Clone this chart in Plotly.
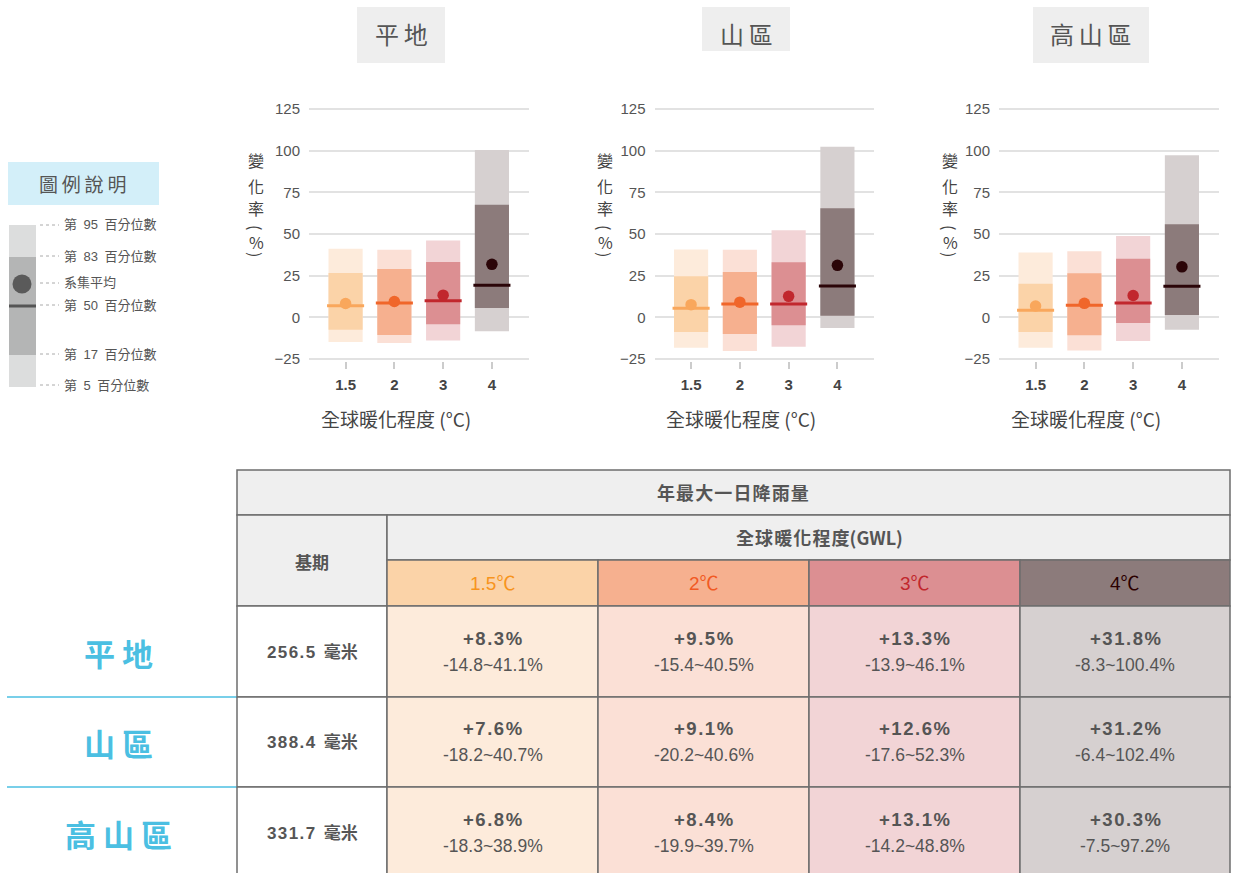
import plotly.graph_objects as go

W, H = 1236, 873

# ---- data -------------------------------------------------------------
regions = ['平地', '山區', '高山區']
gwl_levels = ['1.5', '2', '3', '4']
baseline_mm = [256.5, 388.4, 331.7]

# ensemble statistics of annual max 1-day rainfall change (%), per region x GWL
ens_mean = [[8.3, 9.5, 13.3, 31.8],
            [7.6, 9.1, 12.6, 31.2],
            [6.8, 8.4, 13.1, 30.3]]
p5 = [[-14.8, -15.4, -13.9, -8.3],
      [-18.2, -20.2, -17.6, -6.4],
      [-18.3, -19.9, -14.2, -7.5]]
p95 = [[41.1, 40.5, 46.1, 100.4],
       [40.7, 40.6, 52.3, 102.4],
       [38.9, 39.7, 48.8, 97.2]]
p17 = [[-7.4, -10.6, -4.2, 5.6],
       [-8.8, -10.0, -4.8, 1.0],
       [-8.8, -10.8, -3.4, 1.4]]
p83 = [[26.6, 29.0, 33.2, 67.6],
       [24.6, 27.2, 33.0, 65.4],
       [20.2, 26.4, 35.2, 55.8]]
p50 = [[7.0, 8.6, 10.0, 19.2],
       [5.4, 8.0, 8.0, 18.8],
       [4.2, 7.2, 8.6, 18.6]]

y_ticks = [-25, 0, 25, 50, 75, 100, 125]
legend_items = ['第\u200295\u2002百分位數', '第\u200283\u2002百分位數', '系集平均',
                '第\u200250\u2002百分位數', '第\u200217\u2002百分位數',
                '第\u20025\u2002百分位數']
# vertical y-axis title: (glyph, rotation)
y_title_chars = [('變', 0), ('化', 0), ('率', 0), ('(', 90), ('%', 0), (')', 90)]

# ---- styling ----------------------------------------------------------
light_colors = ['#fdebdb', '#fbe0d6', '#f2d4d6', '#d6d0d0']
mid_colors = ['#fbd3a8', '#f6b08f', '#dc8f92', '#8c7b7b']
dark_colors = ['#f9a75c', '#f0662a', '#c1272d', '#2b0508']
head_text_colors = ['#f7941d', '#f15a24', '#c1272d', '#2b0000']
TXT = '#555555'
CJK = 'Noto Sans CJK TC'
LAT = 'Liberation Sans, Noto Sans CJK TC'
NARROW = 'Liberation Sans Narrow, Liberation Sans, Noto Sans CJK TC'
BLUE = '#4bbfe2'
BORDER = '#6e6e6e'


def px(x):
    return x / W


def py(y):
    return 1 - y / H


def spaced(s, sep='\u2009'):
    return sep.join(list(s))


fig = go.Figure()
shapes = []
annotations = []

# ---- three small panels -----------------------------------------------
panel_px = [(309, 528.5), (654.5, 874), (999, 1218.5)]
ytitle_x = [256, 605, 950]
ytitle_y = [160, 186, 208, 227, 242, 254]
xtitle_x = [396, 741, 1086]
title_boxes = [(357, 445, 7, 63), (702, 790, 7, 51), (1033, 1149, 7, 63)]
xs = list(range(len(gwl_levels)))

for i, reg in enumerate(regions):
    suf = '' if i == 0 else str(i + 1)
    xa, ya = 'x' + suf, 'y' + suf
    outer_h = [hi - lo for hi, lo in zip(p95[i], p5[i])]
    inner_h = [hi - lo for hi, lo in zip(p83[i], p17[i])]
    fig.add_trace(go.Bar(x=xs, y=outer_h, base=p5[i], width=0.7,
                         marker=dict(color=light_colors, line=dict(width=0)),
                         xaxis=xa, yaxis=ya, hoverinfo='skip'))
    fig.add_trace(go.Bar(x=xs, y=inner_h, base=p17[i], width=0.7,
                         marker=dict(color=mid_colors, line=dict(width=0)),
                         xaxis=xa, yaxis=ya, hoverinfo='skip'))
    for j in xs:
        fig.add_trace(go.Scatter(x=[j - 0.38, j + 0.38], y=[p50[i][j]] * 2,
                                 mode='lines',
                                 line=dict(color=dark_colors[j], width=3),
                                 xaxis=xa, yaxis=ya, hoverinfo='skip'))
    fig.add_trace(go.Scatter(x=xs, y=ens_mean[i], mode='markers',
                             marker=dict(size=11.5, color=dark_colors),
                             xaxis=xa, yaxis=ya, hoverinfo='skip'))

    x0, x1 = panel_px[i]
    fig.update_layout(**{
        'xaxis' + suf: dict(domain=[px(x0), px(x1)], range=[-0.75, 3.75],
                            tickvals=xs, ticktext=gwl_levels,
                            ticks='outside', ticklen=7, tickwidth=1.5,
                            tickcolor='#cccccc', showgrid=False,
                            zeroline=False, showline=False, fixedrange=True,
                            automargin=False,
                            tickfont=dict(family=LAT, size=15, color='#444444',
                                          weight='bold'),
                            ticklabelstandoff=3, anchor=ya),
        'yaxis' + suf: dict(domain=[py(360.7), py(107.3)], range=[-26, 126],
                            tickvals=y_ticks, showgrid=True,
                            gridcolor='#e2e2e2', gridwidth=1.5,
                            zeroline=False, showline=False, fixedrange=True,
                            automargin=False,
                            tickfont=dict(family=LAT, size=15, color=TXT),
                            ticklabelstandoff=8, anchor=xa),
    })

    bx0, bx1, by0, by1 = title_boxes[i]
    shapes.append(dict(type='rect', xref='paper', yref='paper',
                       x0=px(bx0), x1=px(bx1), y0=py(by1), y1=py(by0),
                       fillcolor='#eeeeee', line=dict(width=0), layer='below'))
    annotations.append(dict(x=px((bx0 + bx1) / 2), y=py(34), xref='paper',
                            yref='paper', text=spaced(reg), showarrow=False,
                            font=dict(family=CJK, size=24, color=TXT),
                            xanchor='center', yanchor='middle'))
    for (ch, rot), cy in zip(y_title_chars, ytitle_y):
        annotations.append(dict(x=px(ytitle_x[i]), y=py(cy), xref='paper',
                                yref='paper', text=ch, showarrow=False,
                                textangle=rot,
                                font=dict(family=CJK, size=16, color='#444444'),
                                xanchor='center', yanchor='middle', borderpad=0))
    annotations.append(dict(x=px(xtitle_x[i]), y=py(418), xref='paper',
                            yref='paper', text='全球暖化程度 (°C)',
                            showarrow=False,
                            font=dict(family=CJK, size=19, color='#444444'),
                            xanchor='center', yanchor='middle'))

# ---- legend key ---------------------------------------------------------
shapes.append(dict(type='rect', xref='paper', yref='paper', x0=px(8), x1=px(159),
                   y0=py(205), y1=py(162), fillcolor='#d3eff9', line=dict(width=0)))
annotations.append(dict(x=px(83), y=py(183), xref='paper', yref='paper',
                        text=spaced('圖例說明'), showarrow=False,
                        font=dict(family=CJK, size=19, color=TXT),
                        xanchor='center', yanchor='middle'))
shapes.append(dict(type='rect', xref='paper', yref='paper', x0=px(9), x1=px(36),
                   y0=py(387), y1=py(225), fillcolor='#dcdddd', line=dict(width=0)))
shapes.append(dict(type='rect', xref='paper', yref='paper', x0=px(9), x1=px(36),
                   y0=py(355), y1=py(257), fillcolor='#b4b5b5', line=dict(width=0)))
shapes.append(dict(type='line', xref='paper', yref='paper', x0=px(9), x1=px(36),
                   y0=py(306), y1=py(306), line=dict(color='#555555', width=3)))
shapes.append(dict(type='circle', xref='paper', yref='paper', x0=px(12.5),
                   x1=px(31.5), y0=py(293.5), y1=py(274.5),
                   fillcolor='#5a5a5a', line=dict(width=0)))
legend_y = [225, 256, 283, 305, 354, 385]
for lbl, ly in zip(legend_items, legend_y):
    shapes.append(dict(type='line', xref='paper', yref='paper', x0=px(40),
                       x1=px(59), y0=py(ly), y1=py(ly),
                       line=dict(color='#aaaaaa', width=1, dash='dot')))
    annotations.append(dict(x=px(62), y=py(ly), xref='paper', yref='paper',
                            text=lbl, showarrow=False,
                            font=dict(family=LAT, size=13, color=TXT),
                            xanchor='left', yanchor='middle'))

# ---- summary table ------------------------------------------------------
col_x = [237, 387, 598, 809, 1020, 1230]
row_y = [606, 697, 787, 880]
row_mid = [652, 742, 833]


def cell(x0, x1, y0, y1, fill):
    shapes.append(dict(type='rect', xref='paper', yref='paper',
                       x0=px(x0), x1=px(x1), y0=py(y1), y1=py(y0),
                       fillcolor=fill, line=dict(color=BORDER, width=1.5)))


def text(x, y, s, size, color=TXT, bold=False, family=LAT):
    annotations.append(dict(x=px(x), y=py(y), xref='paper', yref='paper',
                            text=s, showarrow=False,
                            font=dict(family=family, size=size, color=color,
                                      weight='bold' if bold else 'normal'),
                            xanchor='center', yanchor='middle'))


cell(237, 1230, 470, 515, '#efefef')
text(733, 492, spaced('年最大一日降雨量', '\u200a'), 18, bold=True, family=CJK)
cell(237, 387, 515, 606, '#efefef')
text(312, 561, '基期', 17, bold=True, family=CJK)
cell(387, 1230, 515, 560, '#efefef')
text(819, 537, spaced('全球暖化程度', '\u200a') + '(GWL)', 18, bold=True,
     family=CJK)
for j, g in enumerate(gwl_levels):
    cell(col_x[j + 1], col_x[j + 2], 560, 606, mid_colors[j])
    text((col_x[j + 1] + col_x[j + 2]) / 2, 583, g + '℃', 19,
         color=head_text_colors[j], family=NARROW)

for i, reg in enumerate(regions):
    y0, y1 = row_y[i], row_y[i + 1]
    mid = row_mid[i]
    cell(237, 387, y0, y1, '#ffffff')
    text(312, mid, spaced(f'{baseline_mm[i]:.1f}', '\u200a') + '\u2002毫米', 17,
         bold=True)
    for j in xs:
        cx0, cx1 = col_x[j + 1], col_x[j + 2]
        cell(cx0, cx1, y0, y1, light_colors[j])
        text((cx0 + cx1) / 2, mid - 14,
             spaced(f'+{ens_mean[i][j]:.1f}%', '\u200a'), 18.5, bold=True)
        text((cx0 + cx1) / 2, mid + 13,
             f'{p5[i][j]:.1f}~{p95[i][j]:.1f}%', 17.5)
    annotations.append(dict(x=px(118), y=py(mid), xref='paper', yref='paper',
                            text=' '.join(list(reg)), showarrow=False,
                            font=dict(family=CJK, size=31, color=BLUE,
                                      weight='bold'),
                            xanchor='center', yanchor='middle'))
    if i < 2:
        shapes.append(dict(type='line', xref='paper', yref='paper', x0=px(7),
                           x1=px(237), y0=py(y1), y1=py(y1),
                           line=dict(color=BLUE, width=1.5)))

fig.update_layout(width=W, height=H,
                  margin=dict(l=0, r=0, t=0, b=0, pad=0, autoexpand=False),
                  paper_bgcolor='white', plot_bgcolor='white',
                  barmode='overlay', showlegend=False,
                  shapes=shapes, annotations=annotations)

fig.write_html('out.html')
